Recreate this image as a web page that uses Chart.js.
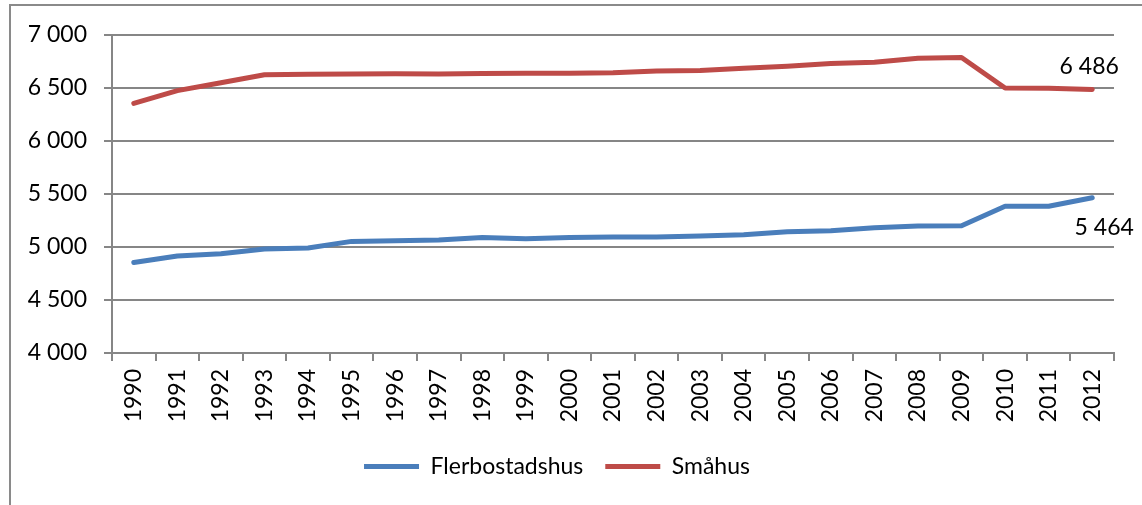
<!DOCTYPE html>
<html lang="sv">
<head>
<meta charset="UTF-8">
<title>Flerbostadshus och småhus</title>
<script src="https://cdn.jsdelivr.net/npm/chart.js@4/dist/chart.umd.min.js"></script>
<style>
    html, body { margin: 0; padding: 0; background: #fff; overflow: hidden; }
    #frame {
        position: absolute; left: 9px; top: 4px;
        width: 1200px; height: 600px;
        border: 2px solid #8a8a8a;
    }
    #chart { position: absolute; left: 0; top: 0; }
</style>
</head>
<body>
<div id="frame"></div>
<canvas id="chart" width="1142" height="505"></canvas>
<script>
    const years = ['1990','1991','1992','1993','1994','1995','1996','1997','1998','1999','2000',
                   '2001','2002','2003','2004','2005','2006','2007','2008','2009','2010','2011','2012'];

    const flerbostadshus = [4853, 4916, 4937, 4981, 4990, 5053, 5060, 5066, 5090, 5078, 5090,
                            5094, 5094, 5103, 5116, 5144, 5153, 5181, 5197, 5200, 5384, 5384, 5464];

    const smahus = [6355, 6475, 6550, 6625, 6630, 6632, 6635, 6633, 6636, 6638, 6640,
                    6644, 6660, 6666, 6687, 6706, 6731, 6744, 6781, 6788, 6500, 6498, 6486];

    const yMin = 4000, yMax = 7000, yStep = 500;

    const grey = '#868686';
    const font = { family: 'Lato, "Liberation Sans", sans-serif', size: 23 };

    // "6486" -> "6 486"
    function spaced(v) {
        return String(Math.round(v)).replace(/\B(?=(\d{3})+(?!\d))/g, ' ');
    }

    // value of the last point written next to it
    const lastValueLabels = {
        id: 'lastValueLabels',
        afterDatasetsDraw(chart, args, opts) {
            const ctx = chart.ctx;
            ctx.save();
            ctx.font = font.size + 'px ' + font.family;
            ctx.fillStyle = '#000';
            ctx.textAlign = 'center';
            ctx.textBaseline = 'middle';
            chart.data.datasets.forEach((ds, i) => {
                const meta = chart.getDatasetMeta(i);
                const n = ds.data.length - 1;
                const pt = meta.data[n];
                const off = opts.offsets[i];
                ctx.fillText(spaced(ds.data[n]), pt.x + off[0], pt.y + off[1]);
            });
            ctx.restore();
        }
    };

    new Chart(document.getElementById('chart'), {
        type: 'line',
        data: {
            labels: years,
            datasets: [{
                label: 'Flerbostadshus',
                data: flerbostadshus,
                borderColor: '#4A7EBB',
                backgroundColor: '#4A7EBB',
                borderWidth: 5,
                borderCapStyle: 'round',
                borderJoinStyle: 'round',
                pointRadius: 0,
                tension: 0
            }, {
                label: 'Småhus',
                data: smahus,
                borderColor: '#BE4B48',
                backgroundColor: '#BE4B48',
                borderWidth: 5,
                borderCapStyle: 'round',
                borderJoinStyle: 'round',
                pointRadius: 0,
                tension: 0
            }]
        },
        options: {
            responsive: false,
            animation: false,
            layout: { padding: { top: 35, right: 28, bottom: 17, left: 0 } },
            plugins: {
                tooltip: { enabled: false },
                legend: {
                    position: 'bottom',
                    labels: {
                        font: font,
                        color: '#000',
                        usePointStyle: true,
                        pointStyle: 'line',
                        pointStyleWidth: 55,
                        padding: 22
                    }
                },
                lastValueLabels: { offsets: [[12, 30], [-3, -23]] }
            },
            scales: {
                x: {
                    offset: true,
                    grid: {
                        offset: true,
                        drawOnChartArea: false,
                        color: grey,
                        lineWidth: 2,
                        tickLength: 8
                    },
                    border: { color: grey, width: 2 },
                    ticks: {
                        font: font,
                        color: '#000',
                        autoSkip: false,
                        minRotation: 90,
                        maxRotation: 90,
                        padding: 8
                    },
                    afterFit(scale) { scale.height = 80; }
                },
                y: {
                    min: yMin,
                    max: yMax,
                    grid: { color: grey, lineWidth: 2, tickLength: 8 },
                    border: { color: grey, width: 2 },
                    ticks: {
                        stepSize: yStep,
                        font: font,
                        color: '#000',
                        padding: 17,
                        callback: v => spaced(v)
                    },
                    afterFit(scale) { scale.width = 112; }
                }
            }
        },
        plugins: [lastValueLabels]
    });
</script>
</body>
</html>
